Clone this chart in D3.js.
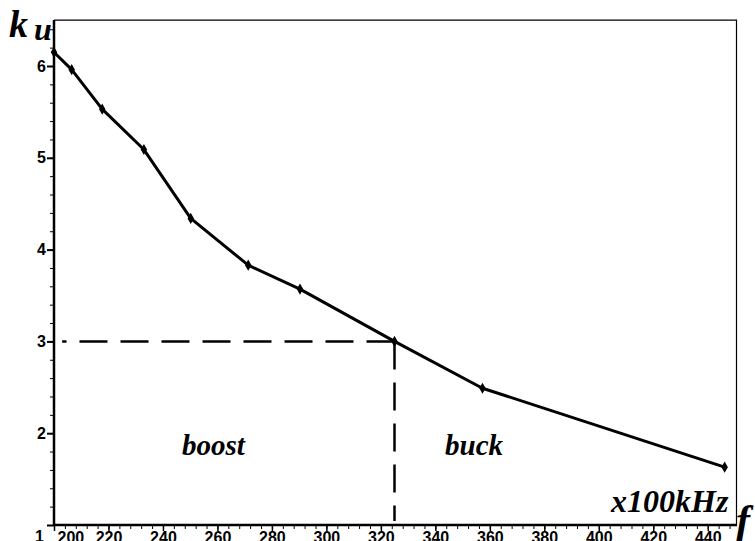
<!DOCTYPE html>
<html>
<head>
<meta charset="utf-8">
<script src="https://unpkg.com/d3@7.8.4/dist/d3.min.js"></script>
<style>
  body { margin: 0; background: #fff; }
  svg { display: block; }
  .tick text { font-family: "Liberation Sans", Arial, sans-serif; font-weight: bold; font-size: 16px; fill: #000; }
  .lbl { font-family: "Liberation Serif", "DejaVu Serif", "Times New Roman", serif; font-weight: bold; font-style: italic; fill: #000; }
</style>
</head>
<body>
<svg width="755" height="541"></svg>
<script>
// measured points, f in x100kHz
const freq = [200, 206.5, 217.7, 233, 250.2, 271.3, 290.3, 325, 357.3, 446.2]
const ku = [6.15, 5.96, 5.53, 5.09, 4.34, 3.83, 3.57, 3.0, 2.49, 1.63]

const xTicks = [200, 220, 240, 260, 280, 300, 320, 340, 360, 380, 400, 420, 440]
const yTicks = [1, 2, 3, 4, 5, 6]

// boost / buck boundary
const boundF = 325
const boundK = 3
const dashStartF = 203

const svg = d3.select("svg")
const width = +svg.attr("width")
const height = +svg.attr("height")

const x = d3.scaleLinear().domain([200, 450]).range([54, 735])
const y = d3.scaleLinear().domain([1, 6]).range([525, 66])

// frame (top and right)
svg.append("path")
    .attr("d", `M${x(200)},${y(6.5)}H${x(450) + 1.5}V${y(1)}`)
    .attr("fill", "none")
    .attr("stroke", "#000")
    .attr("stroke-width", 1.2)

// minor ticks
svg.append("g")
    .attr("transform", `translate(0,${y(1)})`)
    .call(d3.axisBottom(x).tickValues(d3.range(200, 451, 4)).tickSize(4).tickFormat(""))
    .call(g => g.select(".domain").remove())
svg.append("g")
    .attr("transform", `translate(${x(200)},0)`)
    .call(d3.axisLeft(y).tickValues(d3.range(1, 6.51, 0.2)).tickSize(4).tickFormat(""))
    .call(g => g.select(".domain").remove())

// major axes
const xAxis = svg.append("g")
    .attr("transform", `translate(0,${y(1)})`)
    .call(d3.axisBottom(x).tickValues(xTicks).tickSize(6).tickPadding(1).tickSizeOuter(0).tickFormat(d3.format("d")))
xAxis.select(".domain").attr("d", `M${x(200)},0H${x(450) + 2}`).attr("stroke-width", 2.5)
xAxis.selectAll(".tick line").attr("stroke-width", 1.5)
xAxis.selectAll(".tick text").filter(d => d === 200)
    .attr("text-anchor", "start").attr("dx", 3)

const yAxis = svg.append("g")
    .attr("transform", `translate(${x(200)},0)`)
    .call(d3.axisLeft(y).tickValues(yTicks).tickSize(7).tickPadding(1).tickSizeOuter(0).tickFormat(d3.format("d")))
yAxis.select(".domain").attr("d", `M0,${y(1) + 1}V${y(6.5)}`).attr("stroke-width", 2.5)
yAxis.selectAll(".tick line").attr("stroke-width", 2)
yAxis.selectAll(".tick text").filter(d => d === 1)
    .attr("dy", "1.0em").attr("dx", -2)

// dashed guide lines
svg.append("line")
    .attr("x1", x(boundF)).attr("y1", y(boundK))
    .attr("x2", x(dashStartF)).attr("y2", y(boundK))
    .attr("stroke", "#000").attr("stroke-width", 2.5)
    .attr("stroke-dasharray", "28,13")
svg.append("line")
    .attr("x1", x(boundF)).attr("y1", y(boundK))
    .attr("x2", x(boundF)).attr("y2", y(1) - 4)
    .attr("stroke", "#000").attr("stroke-width", 2.5)
    .attr("stroke-dasharray", "28,13")

// curve
const pts = freq.map((f, i) => [f, ku[i]])
svg.append("path")
    .datum(pts)
    .attr("d", d3.line().x(d => x(d[0])).y(d => y(d[1])))
    .attr("fill", "none")
    .attr("stroke", "#000")
    .attr("stroke-width", 3)
    .attr("stroke-linejoin", "round")

svg.selectAll(".pt").data(pts)
    .enter().append("path")
    .attr("class", "pt")
    .attr("transform", d => `translate(${x(d[0])},${y(d[1])})`)
    .attr("d", d3.symbol(d3.symbolDiamond, 36))
    .attr("fill", "#000")

// labels
svg.append("text").attr("class", "lbl").attr("x", 9).attr("y", 37)
    .style("font-size", "38px").text("k")
svg.append("text").attr("class", "lbl").attr("x", 34).attr("y", 40)
    .style("font-size", "32px").text("u")
svg.append("text").attr("class", "lbl").attr("x", 182).attr("y", 455)
    .style("font-size", "29px").text("boost")
svg.append("text").attr("class", "lbl").attr("x", 445).attr("y", 455)
    .style("font-size", "29px").text("buck")
svg.append("text").attr("class", "lbl").attr("x", 611).attr("y", 512)
    .style("font-size", "32px").text("x100kHz")
svg.append("text").attr("class", "lbl").attr("x", 736).attr("y", 534)
    .style("font-size", "42px").text("f")
</script>
</body>
</html>
